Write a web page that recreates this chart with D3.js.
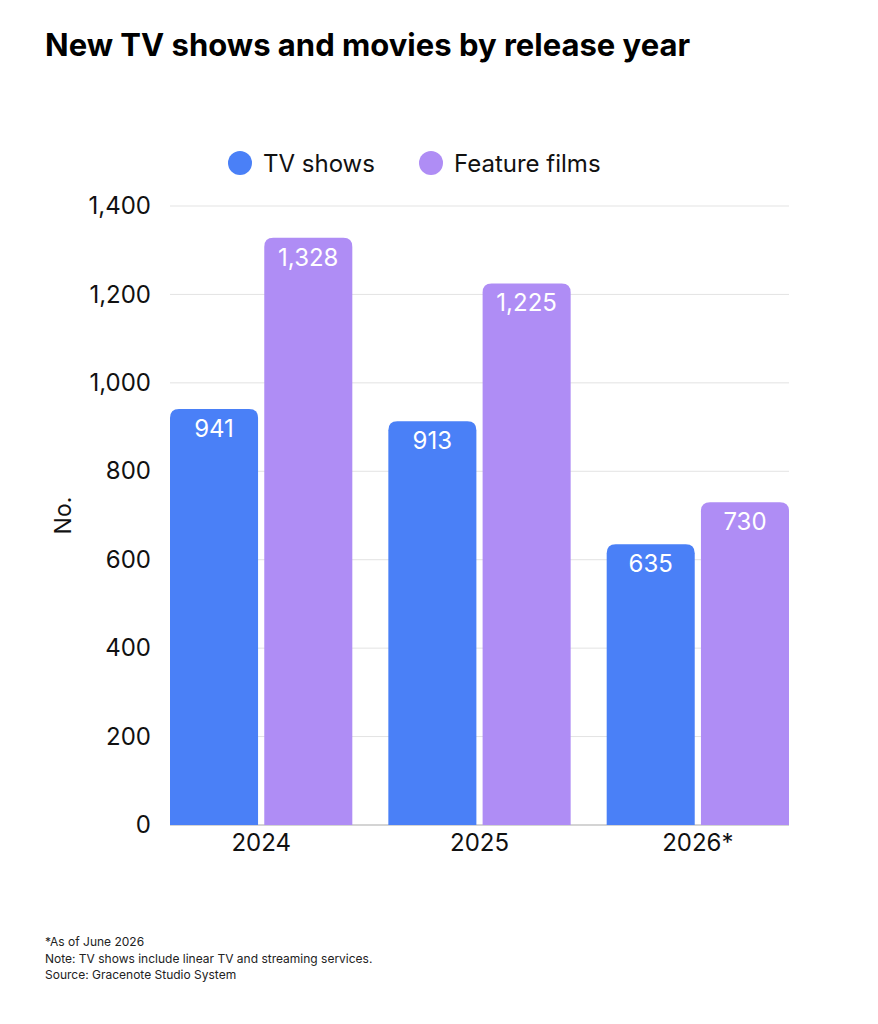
<!DOCTYPE html>
<html>
<head>
<meta charset="utf-8">
<script src="https://cdn.jsdelivr.net/npm/d3@7"></script>
<style>
  body { margin: 0; background: #fff; font-family: Inter, "Noto Sans", sans-serif; }
  .tick text { font-family: Inter, sans-serif; }
</style>
</head>
<body>
<svg id="chart"></svg>
<script>
// data
const years = ['2024', '2025', '2026*'];
const seriesNames = ['TV shows', 'Feature films'];
const tvShows = [941, 913, 635];
const featureFilms = [1328, 1225, 730];
const yTicks = [0, 200, 400, 600, 800, 1000, 1200, 1400];
const colors = ['#4a80f7', '#af8df5'];

const width = 878, height = 1024;
const margin = {top: 206, right: 89, bottom: 199, left: 170};

const svg = d3.select('#chart').attr('width', width).attr('height', height);

const x0 = d3.scaleBand().domain(years).range([margin.left, width - margin.right]).paddingInner(0.165).paddingOuter(0);
const x1 = d3.scaleBand().domain(seriesNames).range([0, x0.bandwidth()]).paddingInner(0.066);
const y = d3.scaleLinear().domain([0, 1400]).range([height - margin.bottom, margin.top]);

// title
svg.append('text')
    .attr('x', 45).attr('y', 56)
    .attr('font-size', 31).attr('font-weight', 700).attr('fill', '#000')
    .text('New TV shows and movies by release year');

// gridlines
svg.append('g')
    .selectAll('line')
    .data(yTicks)
    .join('line')
    .attr('x1', margin.left).attr('x2', width - margin.right)
    .attr('y1', d => y(d)).attr('y2', d => y(d))
    .attr('stroke', d => d === 0 ? '#d4d4d4' : '#e3e3e3')
    .attr('stroke-width', d => d === 0 ? 2 : 1);

// y axis
const yAxis = d3.axisLeft(y).tickValues(yTicks).tickSize(0).tickPadding(19).tickFormat(d3.format(','));
const yAxisG = svg.append('g').attr('transform', `translate(${margin.left},0)`).call(yAxis);
yAxisG.select('.domain').remove();
yAxisG.selectAll('text').attr('font-size', 24).attr('fill', '#111');

svg.append('text')
    .attr('transform', `translate(71, ${y(700)}) rotate(-90)`)
    .attr('text-anchor', 'middle')
    .attr('font-size', 23).attr('fill', '#111')
    .text('No.');

// x axis
const xAxis = d3.axisBottom(x0).tickSize(0).tickPadding(9);
const xAxisG = svg.append('g').attr('transform', `translate(0,${height - margin.bottom})`).call(xAxis);
xAxisG.select('.domain').remove();
xAxisG.selectAll('text').attr('font-size', 24).attr('fill', '#111');

// bars
const rows = years.map((yr, i) => ({year: yr, values: [
  {series: seriesNames[0], value: tvShows[i], color: colors[0]},
  {series: seriesNames[1], value: featureFilms[i], color: colors[1]}
]}));

function topRounded(x, yTop, w, yBottom, r) {
  return `M${x},${yBottom}V${yTop + r}Q${x},${yTop} ${x + r},${yTop}H${x + w - r}Q${x + w},${yTop} ${x + w},${yTop + r}V${yBottom}Z`;
}

const groups = svg.append('g').selectAll('.group')
    .data(rows)
    .join('g')
    .attr('class', 'group')
    .attr('transform', d => `translate(${x0(d.year)},0)`);

groups.selectAll('path')
    .data(d => d.values)
    .join('path')
    .attr('d', d => topRounded(x1(d.series), y(d.value), x1.bandwidth(), y(0), 9))
    .attr('fill', d => d.color);

groups.selectAll('.bar-label')
    .data(d => d.values)
    .join('text')
    .attr('class', 'bar-label')
    .attr('x', d => x1(d.series) + x1.bandwidth() / 2)
    .attr('y', d => y(d.value) + 28)
    .attr('text-anchor', 'middle')
    .attr('font-size', 24).attr('fill', '#fff')
    .text(d => d3.format(',')(d.value));

// legend
const legendItems = [
  {name: seriesNames[0], color: colors[0], cx: 240},
  {name: seriesNames[1], color: colors[1], cx: 431}
];
const legend = svg.append('g').selectAll('g')
    .data(legendItems)
    .join('g')
    .attr('transform', d => `translate(${d.cx},163)`);
legend.append('circle').attr('r', 12).attr('fill', d => d.color);
legend.append('text')
    .attr('x', 23).attr('y', 8.5)
    .attr('font-size', 24).attr('fill', '#111')
    .text(d => d.name);

// notes
const notes = ['*As of June 2026', 'Note: TV shows include linear TV and streaming services.', 'Source: Gracenote Studio System'];
svg.append('g').selectAll('text')
    .data(notes)
    .join('text')
    .attr('x', 45)
    .attr('y', (d, i) => 946 + i * 16.5)
    .attr('font-size', 12).attr('fill', '#222')
    .text(d => d);
</script>
</body>
</html>
